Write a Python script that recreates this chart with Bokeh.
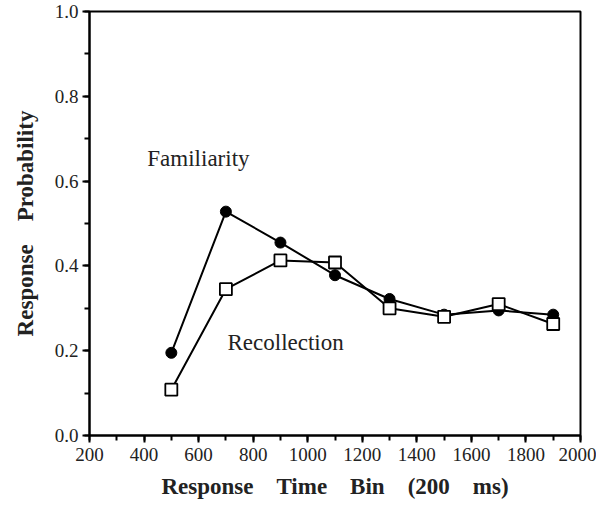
from bokeh.plotting import figure
from bokeh.models import Range1d, FixedTicker, Label, NumeralTickFormatter
from bokeh.embed import file_html
from bokeh.resources import INLINE

bins = [500, 700, 900, 1100, 1300, 1500, 1700, 1900]
familiarity = [0.195, 0.528, 0.455, 0.378, 0.322, 0.285, 0.295, 0.285]
recollection = [0.108, 0.345, 0.413, 0.408, 0.300, 0.280, 0.310, 0.263]
x_ticks = [200, 400, 600, 800, 1000, 1200, 1400, 1600, 1800, 2000]
y_ticks = [0.0, 0.2, 0.4, 0.6, 0.8, 1.0]

FONT = "Liberation Serif"
TXT = "#222222"
GAP = "\u00a0" * 4

p = figure(width=596, height=510, output_backend="svg", toolbar_location=None,
           x_range=Range1d(200, 2000), y_range=Range1d(0, 1.0),
           min_border_left=89, min_border_right=16, min_border_top=11, min_border_bottom=75)
p.grid.visible = False
p.outline_line_color = "black"
p.outline_line_width = 2

p.xaxis.ticker = FixedTicker(ticks=x_ticks, minor_ticks=list(range(200, 2001, 100)))
p.yaxis.ticker = FixedTicker(ticks=y_ticks, minor_ticks=[i / 10 for i in range(11)])
p.yaxis.formatter = NumeralTickFormatter(format="0.0")

for ax in (p.xaxis, p.yaxis):
    ax.axis_line_width = 2
    ax.axis_line_color = "black"
    ax.major_tick_line_width = 2
    ax.minor_tick_line_width = 2
    ax.major_tick_out = 7
    ax.major_tick_in = 0
    ax.minor_tick_out = 5
    ax.minor_tick_in = 0
    ax.major_label_text_font = FONT
    ax.major_label_text_font_size = "19px"
    ax.major_label_text_color = TXT
    ax.axis_label_text_font = FONT
    ax.axis_label_text_font_style = "bold"
    ax.axis_label_text_font_size = "23px"
    ax.axis_label_text_color = TXT

p.xaxis.major_label_standoff = 5
p.yaxis.major_label_standoff = 4
p.xaxis.axis_label = "Response" + GAP + "Time" + GAP + "Bin" + GAP + "(200" + GAP + "ms)"
p.yaxis.axis_label = "Response" + GAP + "Probability"
p.xaxis.axis_label_standoff = 10
p.yaxis.axis_label_standoff = 14

p.line(bins, familiarity, line_color="black", line_width=2)
p.scatter(bins, familiarity, marker="circle", size=11, fill_color="black", line_color="black")
p.line(bins, recollection, line_color="black", line_width=2)
p.scatter(bins, recollection, marker="square", size=12, fill_color="white", line_color="black", line_width=1.8)

p.add_layout(Label(x=412, y=0.625, text="Familiarity", text_font=FONT, text_font_size="23px", text_color=TXT))
p.add_layout(Label(x=706, y=0.19, text="Recollection", text_font=FONT, text_font_size="23px", text_color=TXT))

open("out.html", "w").write(file_html(p, INLINE))
